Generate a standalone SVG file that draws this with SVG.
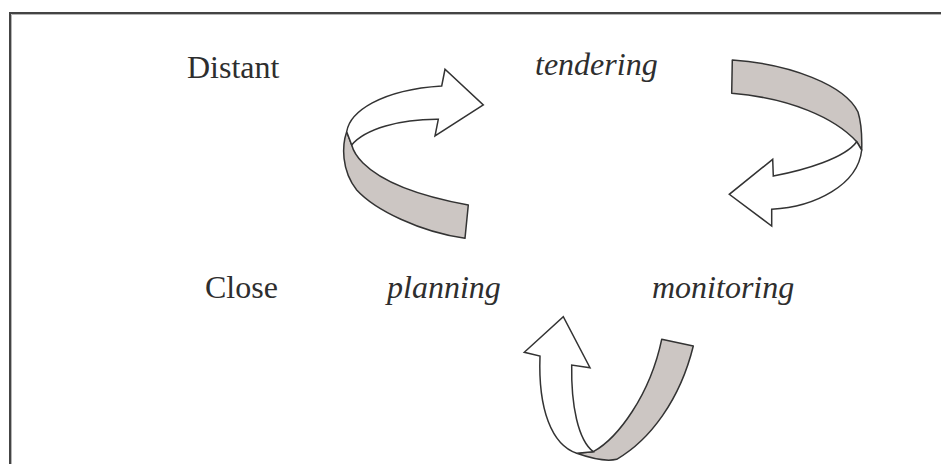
<svg xmlns="http://www.w3.org/2000/svg" width="941" height="464" viewBox="0 0 941 464">
<style>
.lbl{font-family:"Liberation Serif","Times New Roman",serif;font-size:32px;fill:#2e2e2e}
.it{font-style:italic}
.band{fill:#ccc6c3;stroke:#333;stroke-width:1.5;stroke-linejoin:round}
.face{fill:#fff;stroke:#333;stroke-width:1.5;stroke-linejoin:miter}
</style>
<rect width="941" height="464" fill="#fff"/>
<g id="frame">
<path d="M10,464 V13 H941" fill="none" stroke="#444" stroke-width="2"/>
<path d="M11.5,464 V14.5 H941" fill="none" stroke="#b5b5b5" stroke-width="1"/>
</g>
<g id="labels">
<text id="distant" class="lbl" x="187" y="78">Distant</text>
<text id="close" class="lbl" x="205" y="298">Close</text>
<text id="tendering" class="lbl it" x="535" y="75">tendering</text>
<text id="planning" class="lbl it" x="387" y="298">planning</text>
<text id="monitoring" class="lbl it" x="652" y="298">monitoring</text>
</g>
<g id="connectors">
<g id="arrow-planning-tendering">
<path class="band" d="M346.7,131.7 C342,145 341,170 356.7,190 C375,210 420,232 465,238.3 L468.3,205 C430,198 385,185 363,163 C357,157 353,150 351.7,145 Z"/>
<path class="face" d="M346.7,131.7 C350,112 380,90 441.7,86 L445,69.3 L483.3,105 L435,136 L438.3,119.3 C400,119 365,129 351.7,145 Z"/>
</g>
<g id="arrow-tendering-monitoring">
<path class="band" d="M732.3,60 C790,64 845,85 858,112 C862,125 862,140 861.7,150 L856.7,141.7 C835,118 790,98 731.7,93.3 Z"/>
<path class="face" d="M861.7,150 C858,185 815,207 771.7,209.3 L771.7,226 L729.3,194.3 L772.7,159.3 L773.3,176 C805,170 845,158 856.7,141.7 Z"/>
</g>
<g id="arrow-monitoring-planning">
<path class="band" d="M593.3,451.7 C618,438 650,395 661.7,339.3 L693.3,346 C680,400 650,440 616.7,459.3 C605,462 590,458 576.7,453.3 Z"/>
<path class="face" d="M576.7,453.3 C552,445 538,410 540,356 L524.3,352.3 L563.3,316.7 L590,367.7 L571.7,365 C571,405 578,440 593.3,451.7 Z"/>
</g>
</g>
</svg>
